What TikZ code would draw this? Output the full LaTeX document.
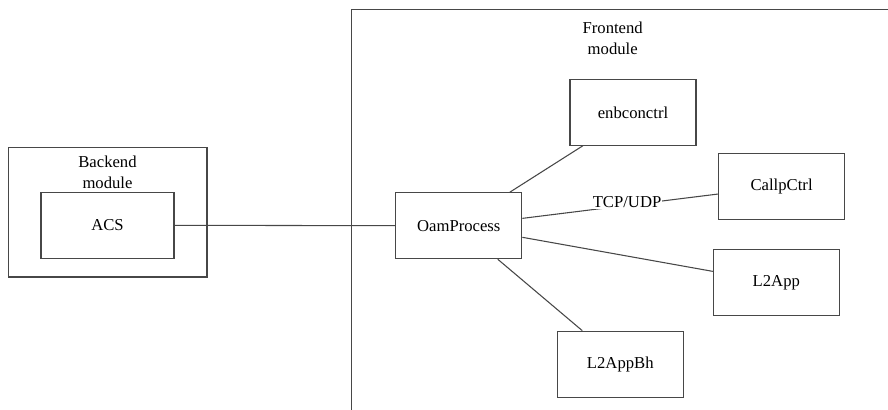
\documentclass[tikz,border=0pt]{standalone}
\usepackage{fontspec}
\setmainfont{Liberation Serif}
\begin{document}
\begin{tikzpicture}[x=0.75pt,y=-0.75pt,
  edgecol/.style={draw=black!72, line width=0.8pt},
  txt/.style={font=\rmfamily\fontsize{12.5}{15.5}\selectfont},
  proc/.style={edgecol, txt, rectangle, minimum width=94.5pt, minimum height=49.5pt,
    inner sep=0pt},
  wire/.style={edgecol},
  caption/.style={txt, align=center, inner sep=0pt}]
\useasboundingbox (0,0) rectangle (888,410);
\begin{scope}
\clip (0,0) rectangle (888,410);
% backend container
\draw[edgecol] (8.3,147.3) rectangle (207,277);
\node[caption] (backlbl) at (107.5,172) {Backend\\module};
% frontend container, running off the right and bottom edges
\draw[edgecol] (900,9.3) -- (351.7,9.3) -- (351.7,420);
\node[caption] (frontlbl) at (612.7,38) {Frontend\\module};
% processes
\node[proc, minimum width=99.75pt] (acs) at (107.5,225.3) {ACS};
\node[proc] (oam) at (458.8,225.7) {OamProcess};
\node[proc] (enb) at (633,112.3) {enbconctrl};
\node[proc] (callp) at (781.6,186.3) {CallpCtrl};
\node[proc] (l2app) at (776.3,282.7) {L2App};
\node[proc] (l2bh) at (620.3,364.2) {L2AppBh};
% connections
\draw[wire] (acs.east) -- (oam.west);
\draw[wire] ([xshift=38.3pt]oam.north) -- ([xshift=-37.7pt]enb.south);
\draw[wire] ([yshift=5.5pt]oam.east) -- ([yshift=-5.8pt]callp.west)
  node[txt, pos=0.535, fill=white, inner sep=0.6pt, yshift=2.2pt] (tcp) {TCP/UDP};
\draw[wire] ([yshift=-8.7pt]oam.east) -- ([yshift=8.5pt]l2app.west);
\draw[wire] ([xshift=29.2pt]oam.south) -- ([xshift=-28.5pt]l2bh.north);
\end{scope}
\end{tikzpicture}
\end{document}
